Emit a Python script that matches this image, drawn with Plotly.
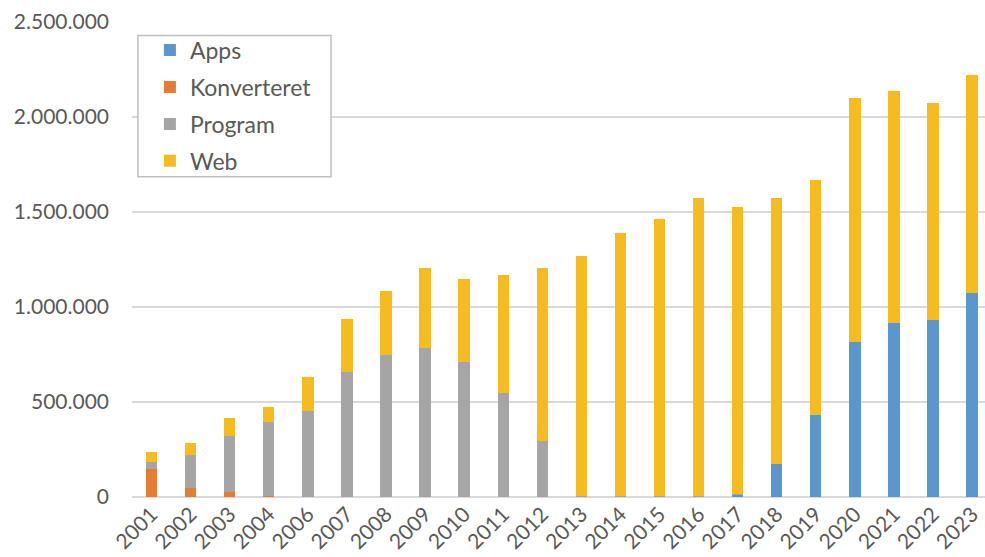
import plotly.graph_objects as go

years = ["2001", "2002", "2003", "2004", "2006", "2007", "2008", "2009", "2010",
         "2011", "2012", "2013", "2014", "2015", "2016", "2017", "2018", "2019",
         "2020", "2021", "2022", "2023"]

apps = [0, 0, 0, 0, 0, 0, 0, 0, 0, 0, 0, 0, 0, 0, 0,
        12000, 172000, 430000, 818000, 914000, 930000, 1075000]
konverteret = [150000, 50000, 27000, 3000, 0, 0, 0, 0, 0, 0, 0, 0, 0, 0, 0,
               0, 0, 0, 0, 0, 0, 0]
program = [35000, 172000, 292000, 390000, 452000, 659000, 745000, 782000, 708000,
           550000, 294000, 4000, 4000, 4000, 4000, 2000, 0, 0, 0, 0, 0, 0]
web = [50000, 61000, 97000, 83000, 182000, 280000, 341000, 425000, 438000,
       621000, 913000, 1266000, 1388000, 1460000, 1571000, 1512000, 1403000,
       1241000, 1281000, 1221000, 1144000, 1145000]

series = [
    ("Apps", apps, "#5B96CD"),
    ("Konverteret", konverteret, "#E67B34"),
    ("Program", program, "#A5A5A5"),
    ("Web", web, "#F6BC1F"),
]

fig = go.Figure()
for name, vals, color in series:
    fig.add_trace(go.Bar(
        x=years, y=vals, name=name, legendgroup=name,
        marker=dict(color=color, line=dict(width=0)),
    ))

# legend frame drawn as a shape so the entries can sit closer to its top edge
fig.add_shape(
    type="rect", xref="paper", yref="paper",
    x0=0.007, x1=0.2333, y0=0.674, y1=0.9715,
    line=dict(color="#BFBFBF", width=1.5), fillcolor="white", layer="above",
)

font = "Lato, 'Open Sans', sans-serif"
fig.update_layout(
    width=985, height=557,
    barmode="stack", bargap=0.71,
    separators=",.",
    plot_bgcolor="white", paper_bgcolor="white",
    margin=dict(l=132, r=0, t=22, b=60),
    font=dict(family=font, size=21, color="#595959"),
    xaxis=dict(
        type="category", range=[-0.5, 21.33],
        tickangle=-45, showgrid=False, ticks="",
        showline=False, tickfont=dict(size=21, color="#595959"),
    ),
    yaxis=dict(
        range=[0, 2500000], tick0=0, dtick=500000,
        tickformat=",.0f", showgrid=True, gridcolor="#D9D9D9", gridwidth=1.5,
        zeroline=True, zerolinecolor="#D9D9D9", zerolinewidth=1.5,
        showline=False, ticks="", ticklabelstandoff=22,
        tickfont=dict(size=21, color="#595959"),
    ),
    showlegend=True,
    legend=dict(
        x=0.021, y=0.986, xanchor="left", yanchor="top",
        traceorder="grouped", tracegroupgap=4,
        borderwidth=0, bgcolor="rgba(0,0,0,0)",
        font=dict(size=23, color="#595959"),
        itemwidth=30,
    ),
)

fig.write_html("out.html")
